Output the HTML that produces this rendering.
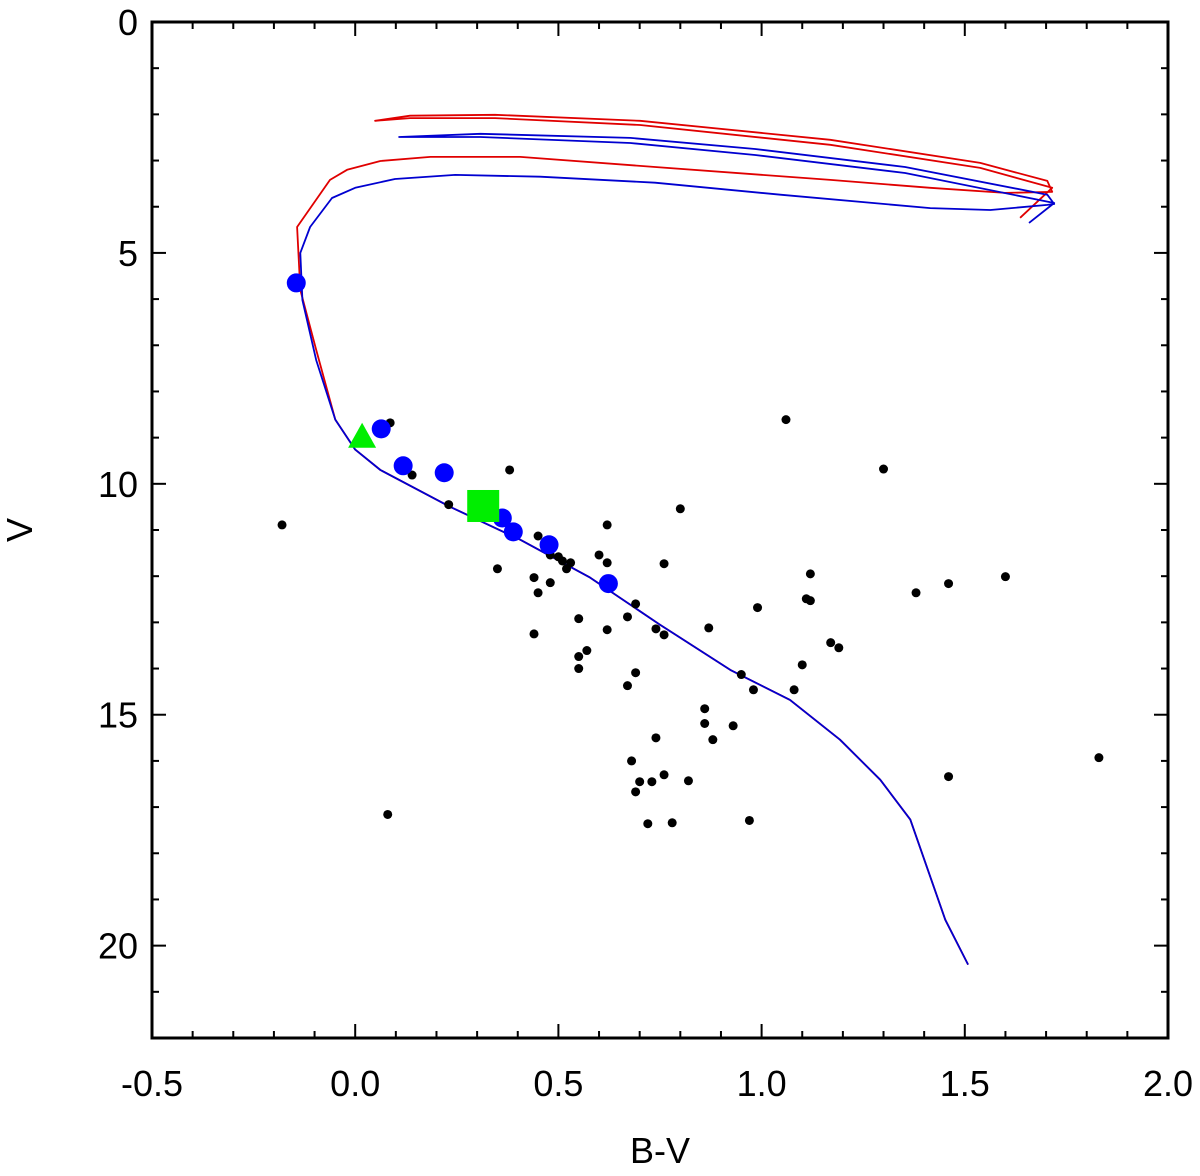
<!DOCTYPE html>
<html><head><meta charset="utf-8">
<style>
html,body{margin:0;padding:0;background:#fff;}
svg text{font-family:"Liberation Sans",sans-serif;fill:#000;}
</style></head>
<body>
<svg id="chart" width="1200" height="1171" viewBox="0 0 1200 1171" xmlns="http://www.w3.org/2000/svg">
<g id="ticks"></g>
<g id="curves"></g>
<g id="marks"></g>
<rect x="152" y="22" width="1016" height="1016" fill="none" stroke="#000" stroke-width="3"/>
<text x="660" y="1163" font-size="36" text-anchor="middle">B-V</text>
<text x="0" y="0" font-size="36" text-anchor="middle" transform="translate(32,530) rotate(-90)">V</text>
</svg>
<script>
const xTicks=[-0.5,0.0,0.5,1.0,1.5,2.0];
const xTickLabels=["-0.5","0.0","0.5","1.0","1.5","2.0"];
const yTicks=[0,5,10,15,20];
const yTickLabels=["0","5","10","15","20"];
const starsBV=[-0.18,0.086,0.14,0.23,0.38,0.35,0.45,0.44,0.45,0.48,0.50,0.51,0.53,0.52,0.48,0.55,0.57,0.55,0.55,0.44,0.60,0.62,0.62,0.62,0.69,0.67,0.74,0.76,0.76,0.80,0.87,0.99,1.06,0.67,0.69,0.95,0.98,1.08,1.10,1.12,1.11,1.12,1.17,1.19,1.30,1.38,1.46,1.60,0.86,0.86,0.88,0.93,0.74,0.68,0.70,0.73,0.76,0.82,0.69,0.72,0.78,0.97,0.08,1.46,1.83];
const starsV=[10.89,8.68,9.81,10.45,9.70,11.84,11.13,12.03,12.36,11.54,11.58,11.67,11.71,11.84,12.14,12.92,13.61,13.74,14.0,13.25,11.54,10.89,11.71,13.16,12.6,12.88,13.14,13.27,11.73,10.54,13.12,12.68,8.61,14.37,14.09,14.13,14.46,14.46,13.92,11.95,12.49,12.53,13.44,13.55,9.68,12.36,12.16,12.01,14.87,15.19,15.54,15.24,15.5,16.0,16.45,16.45,16.3,16.43,16.67,17.36,17.34,17.29,17.16,16.34,15.93];
const membersBV=[-0.145,0.064,0.118,0.219,0.362,0.389,0.477,0.623];
const membersV=[5.65,8.81,9.61,9.76,10.74,11.04,11.32,12.16];
const triangleBV=[0.017], triangleV=[8.98];
const squareBV=[0.315], squareV=[10.48];
const msBV=[1.508,1.452,1.366,1.292,1.193,1.070,0.923,0.750,0.578,0.406,0.234,0.062,0.0,-0.049];
const msV=[20.41,19.44,17.27,16.41,15.54,14.68,14.03,13.05,12.03,11.21,10.50,9.70,9.26,8.61];
const redBV=[-0.096,-0.135,-0.143,-0.062,-0.020,0.062,0.185,0.406,0.738,1.169,1.415,1.599,1.715,1.703,1.538,1.169,0.701,0.344,0.135,0.049,0.135,0.344,0.701,1.169,1.538,1.715,1.636];
const redV=[7.10,5.80,4.44,3.42,3.20,3.01,2.92,2.92,3.14,3.42,3.59,3.70,3.68,3.44,3.05,2.55,2.14,2.01,2.03,2.14,2.08,2.08,2.23,2.66,3.16,3.59,4.24];
const blueBV=[-0.096,-0.130,-0.135,-0.111,-0.057,0,0.098,0.246,0.455,0.738,1.046,1.415,1.563,1.703,1.720,1.703,1.353,0.984,0.677,0.308,0.108,0.308,0.677,0.984,1.353,1.720,1.658];
const blueV=[7.32,6.02,5.0,4.44,3.81,3.59,3.40,3.31,3.35,3.48,3.74,4.03,4.07,3.96,3.94,3.74,3.14,2.75,2.51,2.42,2.49,2.49,2.62,2.88,3.27,3.92,4.35];

const L=152,R=1168,T=22,B=1038;
const X=v=>L+(v-(-0.5))/(2.5)*(R-L);
const Y=v=>T+(v-0)/22*(B-T);
const NS="http://www.w3.org/2000/svg";
function mk(tag,parent,attrs){const e=document.createElementNS(NS,tag);for(const k in attrs)e.setAttribute(k,attrs[k]);parent.appendChild(e);return e;}
const tg=document.getElementById('ticks');
for(let i=-5;i<=20;i++){const v=i/10;const major=i%5===0;const len=major?14:7;const x=X(v);
 let t=mk('line',tg,{x1:x,x2:x,y1:B,y2:B-len,stroke:'#000','stroke-width':2});
 
 t=mk('line',tg,{x1:x,x2:x,y1:T,y2:T+len,stroke:'#000','stroke-width':2});
 }
for(let i=0;i<=22;i++){const major=i%5===0;const len=major?14:7;const y=Y(i);
 let t=mk('line',tg,{x1:L,x2:L+len,y1:y,y2:y,stroke:'#000','stroke-width':2});
 
 t=mk('line',tg,{x1:R,x2:R-len,y1:y,y2:y,stroke:'#000','stroke-width':2});
 }
xTicks.forEach((v,i)=>{const t=mk('text',tg,{x:X(v),y:1096,'font-size':36,'text-anchor':'middle'});t.textContent=xTickLabels[i];
 });
yTicks.forEach((v,i)=>{const t=mk('text',tg,{x:138,y:Y(v)+13,'font-size':36,'text-anchor':'end'});t.textContent=yTickLabels[i];
 });
const cg=document.getElementById('curves');
function path(bx,bv,color,name){const xs=msBV.concat(bx),ys=msV.concat(bv);
 const d=xs.map((v,i)=>(i?'L':'M')+X(v).toFixed(1)+' '+Y(ys[i]).toFixed(1)).join(' ');
 const p=mk('path',cg,{d:d,fill:'none',stroke:color,'stroke-width':1.8,'stroke-linejoin':'round'});
 }
path(redBV,redV,'#e00000','isochrone-red');
path(blueBV,blueV,'#0000d0','isochrone-blue');
const mg=document.getElementById('marks');
starsBV.forEach((v,i)=>{const c=mk('circle',mg,{cx:X(v),cy:Y(starsV[i]),r:4.5,fill:'#000'});
 });
membersBV.forEach((v,i)=>{const c=mk('circle',mg,{cx:X(v),cy:Y(membersV[i]),r:9.5,fill:'#0000ff'});
 });
triangleBV.forEach((v,i)=>{const x=X(v),y=Y(triangleV[i]);const p=mk('polygon',mg,{points:`${x},${y-14} ${x-14},${y+11} ${x+14},${y+11}`,fill:'#00ee00'});
 });
squareBV.forEach((v,i)=>{const x=X(v),y=Y(squareV[i]);const p=mk('rect',mg,{x:x-16,y:y-16,width:32,height:32,fill:'#00ee00'});
 });
</script>
</body></html>
